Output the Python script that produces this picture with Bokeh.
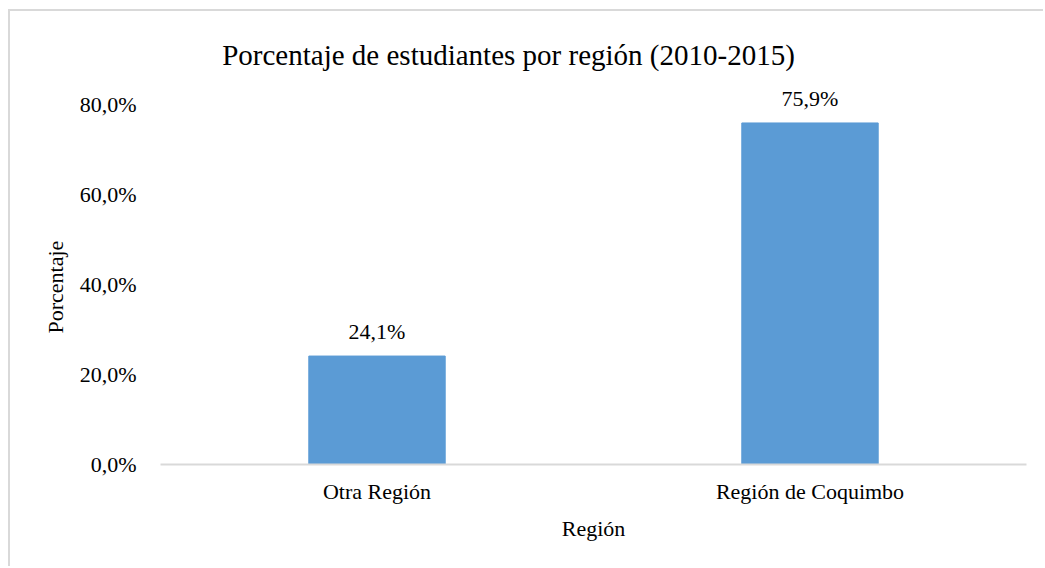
from bokeh.plotting import figure
from bokeh.models import ColumnDataSource, LabelSet, Label, FixedTicker, FactorRange, Range1d, Title
from bokeh.core.properties import value
from bokeh.embed import file_html
from bokeh.resources import INLINE

categories = ["Otra Región", "Región de Coquimbo"]
values = [24.1, 75.9]
value_labels = ["24,1%", "75,9%"]
y_ticks = [0, 20, 40, 60, 80]
y_tick_labels = ["0,0%", "20,0%", "40,0%", "60,0%", "80,0%"]
title_text = "Porcentaje de estudiantes por región (2010-2015)"

FONT = "Liberation Serif"

src = ColumnDataSource(dict(cat=categories, val=values, lab=value_labels))

# frame spans full canvas height above the baseline; ticks stop at 80 %
p = figure(x_range=FactorRange(*categories, range_padding=0), y_range=Range1d(0, 100.67),
           width=1035, height=557, output_backend="svg", toolbar_location=None,
           min_border_left=150, min_border_right=19, min_border_top=0, min_border_bottom=104)
p.styles = {"border-top": "2px solid #d9d9d9", "border-left": "2px solid #d9d9d9",
            "margin-left": "8px", "margin-top": "9px"}
p.outline_line_color = None
p.background_fill_color = "white"
p.border_fill_color = "white"
p.xgrid.grid_line_color = None
p.ygrid.grid_line_color = None

p.vbar(x="cat", top="val", width=0.315, source=src, color="#5B9BD5")

labels = LabelSet(x="cat", y="val", text="lab", source=src, y_offset=12,
                  text_align="center", text_baseline="bottom",
                  text_font=value(FONT), text_font_size="22px", text_color="#000000")
p.add_layout(labels)

# y axis
p.yaxis.ticker = FixedTicker(ticks=y_ticks)
p.yaxis.major_label_overrides = {t: l for t, l in zip(y_ticks, y_tick_labels)}
p.yaxis.axis_line_color = None
p.yaxis.major_tick_line_color = None
p.yaxis.minor_tick_line_color = None
p.yaxis.major_label_standoff = 18
p.yaxis.major_label_text_font = FONT
p.yaxis.major_label_text_font_size = "22px"
p.yaxis.major_label_text_color = "#000000"

ylab = Title(text="Porcentaje", align="left", offset=131, standoff=17,
             text_font=FONT, text_font_size="22px", text_font_style="normal",
             text_color="#000000")
p.add_layout(ylab, "left")

# x axis
p.xaxis.axis_line_color = "#d9d9d9"
p.xaxis.axis_line_width = 2
p.xaxis.major_tick_line_color = None
p.xaxis.minor_tick_line_color = None
p.xaxis.major_label_standoff = 8
p.xaxis.major_label_text_font = FONT
p.xaxis.major_label_text_font_size = "22px"
p.xaxis.major_label_text_color = "#000000"
p.xaxis.axis_label = "Región"
p.xaxis.axis_label_text_font = FONT
p.xaxis.axis_label_text_font_size = "22px"
p.xaxis.axis_label_text_font_style = "normal"
p.xaxis.axis_label_text_color = "#000000"
p.xaxis.axis_label_standoff = 9

title = Label(x=348, y=410, x_units="screen", y_units="screen", text=title_text,
              text_align="center", text_baseline="middle",
              text_font=FONT, text_font_size="29px", text_color="#000000")
p.add_layout(title)

open("out.html", "w").write(file_html(p, INLINE))
